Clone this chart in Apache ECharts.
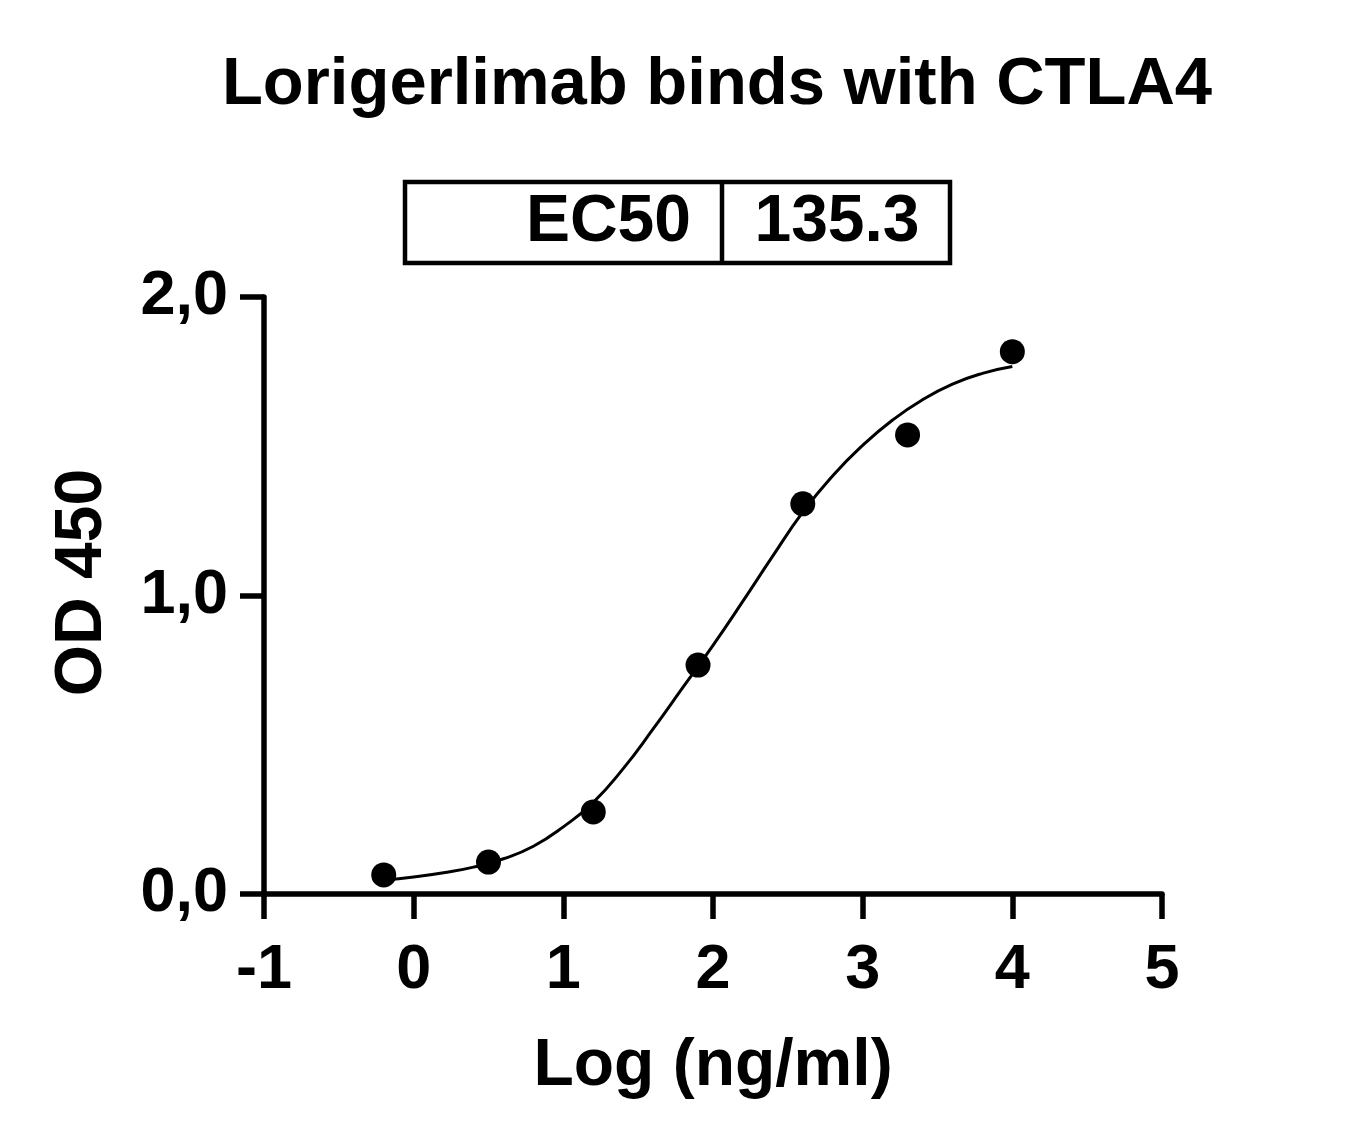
<!DOCTYPE html>
<html>
<head>
<meta charset="utf-8">
<title>Lorigerlimab binds with CTLA4</title>
<script src="https://cdn.jsdelivr.net/npm/echarts@6/dist/echarts.min.js"></script>
<style>
  html, body { margin: 0; padding: 0; background: #fff; }
  #chartContainer { width: 1362px; height: 1142px; }
</style>
</head>
<body>
<div id="chartContainer"></div>
<script>
// ============================================================
// DATA
// ============================================================

// Measured points: log concentration (ng/ml) and OD 450
const logConc = [-0.2, 0.5, 1.2, 1.9, 2.6, 3.3, 4.0];
const od450 = [0.064, 0.107, 0.275, 0.767, 1.307, 1.538, 1.817];

// Fitted curve, sampled from the drawn line every 0.2 log units
const curveX = [-0.2, 0.0, 0.2, 0.4, 0.6, 0.8, 1.0, 1.2, 1.4, 1.6, 1.8,
                2.0, 2.2, 2.4, 2.6, 2.8, 3.0, 3.2, 3.4, 3.6, 3.8, 4.0];
const curveY = [0.047, 0.057, 0.071, 0.090, 0.118, 0.160, 0.225, 0.307, 0.420, 0.553, 0.693,
                0.833, 0.981, 1.133, 1.279, 1.401, 1.503, 1.588, 1.656, 1.708, 1.744, 1.767];

// Table above the plot
const tableLabel = 'EC50';
const tableValue = '135.3';

const chartTitle = 'Lorigerlimab binds with CTLA4';
const xAxisTitle = 'Log (ng/ml)';
const yAxisTitle = 'OD 450';


// ============================================================
// BUILD CHART
// ============================================================

const font = '"Liberation Sans", Arial, Helvetica, sans-serif';

function pairs(xs, ys) {
  return xs.map(function(x, i) { return [x, ys[i]]; });
}

const chartInstance = echarts.init(document.getElementById('chartContainer'));

chartInstance.setOption({
  animation: false,
  backgroundColor: '#ffffff',
  title: {
    text: chartTitle,
    left: 712,
    top: 47,
    textAlign: 'center',
    textStyle: { fontFamily: font, fontWeight: 'bold', fontSize: 67, color: '#000' }
  },
  grid: { left: 264, right: 200, top: 297, bottom: 248, containLabel: false },
  xAxis: {
    type: 'value',
    min: -1,
    max: 5,
    interval: 1,
    name: xAxisTitle,
    nameLocation: 'middle',
    nameGap: 140,
    nameTextStyle: { fontFamily: font, fontWeight: 'bold', fontSize: 66, color: '#000' },
    axisLine: { onZero: false, lineStyle: { color: '#000', width: 5.5 } },
    axisTick: { show: true, inside: false, length: 25, lineStyle: { color: '#000', width: 5.5 } },
    axisLabel: { margin: 45, fontFamily: font, fontWeight: 'bold', fontSize: 63, color: '#000' },
    splitLine: { show: false }
  },
  yAxis: {
    type: 'value',
    min: 0,
    max: 2,
    interval: 1,
    name: yAxisTitle,
    nameLocation: 'middle',
    nameGap: 148,
    nameTextStyle: {
      fontFamily: font,
      fontWeight: 'bold',
      fontSize: 66,
      color: '#000',
      padding: [0, 0, 0, 26]
    },
    axisLine: { show: true, onZero: false, lineStyle: { color: '#000', width: 5.5 } },
    axisTick: { show: true, inside: false, length: 24, lineStyle: { color: '#000', width: 5.5 } },
    axisLabel: {
      margin: 36,
      fontFamily: font,
      fontWeight: 'bold',
      fontSize: 63,
      color: '#000',
      formatter: function(v) { return v.toFixed(1).replace('.', ','); }
    },
    splitLine: { show: false }
  },
  graphic: [
    {
      type: 'rect',
      shape: { x: 405, y: 182, width: 545, height: 81 },
      style: { fill: 'none', stroke: '#000', lineWidth: 4.5 }
    },
    {
      type: 'line',
      shape: { x1: 722, y1: 182, x2: 722, y2: 263 },
      style: { stroke: '#000', lineWidth: 4.5 }
    },
    {
      type: 'text',
      x: 691,
      y: 223,
      style: {
        text: tableLabel,
        align: 'right',
        verticalAlign: 'middle',
        font: 'bold 66px ' + font,
        fill: '#000'
      }
    },
    {
      type: 'text',
      x: 837,
      y: 223,
      style: {
        text: tableValue,
        align: 'center',
        verticalAlign: 'middle',
        font: 'bold 66px ' + font,
        fill: '#000'
      }
    }
  ],
  series: [
    {
      name: 'fit',
      type: 'line',
      data: pairs(curveX, curveY),
      smooth: 0.5,
      showSymbol: false,
      lineStyle: { color: '#000', width: 3 },
      z: 2
    },
    {
      name: 'OD 450',
      type: 'scatter',
      data: pairs(logConc, od450),
      symbol: 'circle',
      symbolSize: 25,
      itemStyle: { color: '#000', opacity: 1 },
      z: 3
    }
  ]
});
</script>
</body>
</html>
